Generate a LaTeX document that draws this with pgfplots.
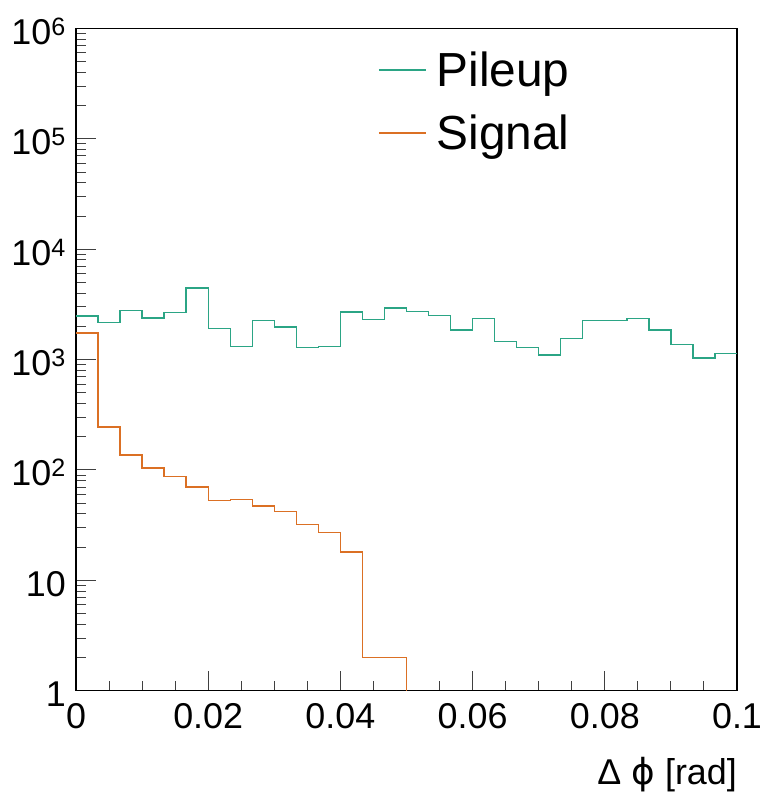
\documentclass[border=0pt]{standalone}
\usepackage{fontspec}
\setmainfont{Liberation Sans}
\newfontfamily\dejavu{DejaVu Sans}
\usepackage{pgfplots}
\pgfplotsset{compat=1.18}
\definecolor{pileup}{HTML}{2BA585}
\definecolor{signal}{HTML}{DB7024}
\begin{document}
\begin{tikzpicture}
\useasboundingbox (-76bp,-104.3bp) rectangle (688bp,690.7bp);
\begin{axis}[
  at={(0,0)}, anchor=south west,
  scale only axis, width=661bp, height=662.2bp,
  xmin=0, xmax=0.1, ymode=log, ymin=1, ymax=1e6,
  axis line style={black, line width=1.1bp},
  tick style={black!75, line width=1bp},
  tick align=inside,
  xtick pos=bottom, ytick pos=left,
  major tick length=20bp, minor tick length=10bp,
  xtick={0,0.02,0.04,0.06,0.08,0.1},
  xticklabels={0,0.02,0.04,0.06,0.08,0.1},
  minor x tick num=3,
  ytick={1,10,100,1000,10000,100000,1000000},
  yticklabels={1,10,10\textsuperscript{2},10\textsuperscript{3},10\textsuperscript{4},10\textsuperscript{5},10\textsuperscript{6}},
  /pgf/number format/assume math mode=true,
  ticklabel style={font=\fontsize{36}{40}\selectfont, inner sep=0pt},
  xticklabel style={anchor=base, yshift=-38bp},
  yticklabel style={anchor=base east, xshift=-10bp, yshift=-16bp},
  xlabel={Δ {\dejavu ϕ} [rad]},
  xlabel style={font=\fontsize{36}{40}\selectfont, at={(rel axis cs:1,0)}, anchor=base east, yshift=-94bp, inner sep=0pt},
  legend style={draw=none, fill=none, at={(rel axis cs:0.457,0.965)}, anchor=north west,
    font=\fontsize{48}{52}\selectfont, row sep=27bp, column sep=10bp, inner sep=0pt,
    nodes={inner sep=0pt}},
  legend cell align=left,
  legend image code/.code={\draw[#1, line width=1.4bp] (0bp,0bp) -- (47bp,0bp);},
]
\addplot[const plot, pileup, line width=1.4bp, mark=none] coordinates {
(0,2474) (0.0033333,2170) (0.0066667,2787) (0.01,2389) (0.0133333,2673)
(0.0166667,4467) (0.02,1914) (0.0233333,1322) (0.0266667,2275) (0.03,1982)
(0.0333333,1288) (0.0366667,1322) (0.04,2710) (0.0433333,2312) (0.0466667,2943)
(0.05,2730) (0.0533333,2512) (0.0566667,1848) (0.06,2359) (0.0633333,1459)
(0.0666667,1288) (0.07,1097) (0.0733333,1553) (0.0766667,2275) (0.08,2275)
(0.0833333,2359) (0.0866667,1858) (0.09,1371) (0.0933333,1030) (0.0966667,1135)
(0.1,1135)};
\addlegendentry{Pileup}
\addplot[const plot, signal, line width=1.4bp, mark=none] coordinates {
(0,1746) (0.0033333,245) (0.0066667,137) (0.01,104) (0.0133333,87)
(0.0166667,70) (0.02,53) (0.0233333,54) (0.0266667,47) (0.03,42)
(0.0333333,32) (0.0366667,27) (0.04,18) (0.0433333,2) (0.0466667,2)
(0.05,1)};
\addlegendentry{Signal}
\end{axis}
\end{tikzpicture}
\end{document}
